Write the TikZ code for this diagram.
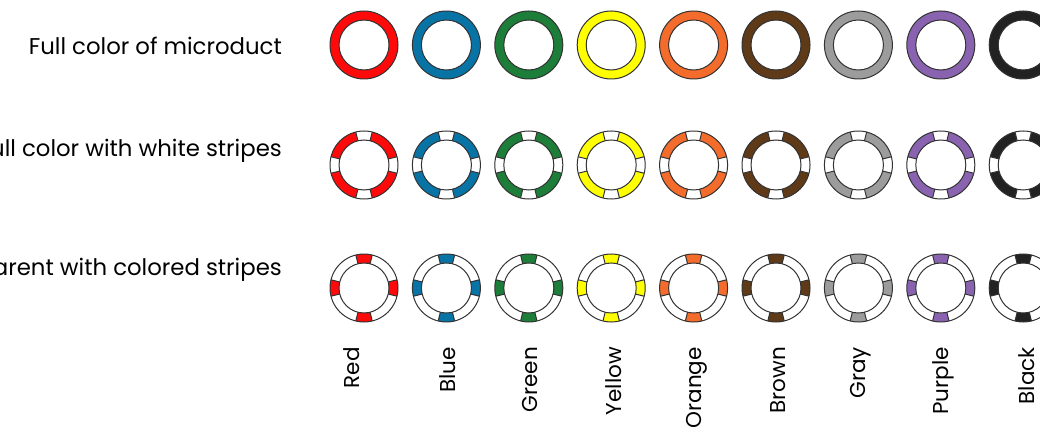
\documentclass[tikz,border=0pt]{standalone}
\usepackage{fontspec}
\setmainfont{Poppins}
\usetikzlibrary{calc}
\definecolor{mred}{HTML}{FF0A0A}
\definecolor{mblue}{HTML}{0874A6}
\definecolor{mgreen}{HTML}{1C7E38}
\definecolor{myellow}{HTML}{FFFF00}
\definecolor{morange}{HTML}{F36C2B}
\definecolor{mbrown}{HTML}{5E3A18}
\definecolor{mgray}{HTML}{9C9C9C}
\definecolor{mpurple}{HTML}{8A63B0}
\definecolor{mblack}{HTML}{222222}
\definecolor{rline}{HTML}{333333}
\tikzset{
  ringline/.style={draw=rline, line width=1pt},
  rowlabel/.style={font=\fontsize{22.8}{27}\selectfont, text=black, inner sep=0pt, anchor=east},
  collabel/.style={font=\fontsize{21.5}{26}\selectfont, text=black, inner sep=0pt, rotate=90, anchor=east},
}
\newcommand\ringseg[4]{%
  \fill[#2] ($(#1)+(#3:34)$) arc[start angle=#3, end angle=#4, radius=34]
    -- ($(#1)+(#4:25)$) arc[start angle=#4, end angle=#3, radius=25] -- cycle;
  \draw[ringline] ($(#1)+(#3:34)$) -- ($(#1)+(#3:25)$)
                  ($(#1)+(#4:34)$) -- ($(#1)+(#4:25)$);}
\newcommand\ringout[1]{%
  \draw[ringline] (#1) circle[radius=34] (#1) circle[radius=25];}
\begin{document}
\begin{tikzpicture}[x=1pt,y=-1pt]
\useasboundingbox (0,0) rectangle (1040,430);
\clip (0,0) rectangle (1040,430);
\node[rowlabel] (l1) at (282,46) {Full color of microduct};
\node[rowlabel] (l2) at (282,151) {Full color with white stripes};
\node[rowlabel] (l3) at (282,270) {Transparent with colored stripes};
\foreach \i/\c/\n/\dx in {0/mred/Red/-12,1/mblue/Blue/1,2/mgreen/Green/1,3/myellow/Yellow/2,4/morange/Orange/3,5/mbrown/Brown/2,6/mgray/Gray/2,7/mpurple/Purple/3,8/mblack/Black/3}{
  \pgfmathsetmacro\xx{364+82.4*\i}
  \coordinate (a\i) at (\xx,45);
  \coordinate (b\i) at (\xx,165);
  \coordinate (c\i) at (\xx,288);
  % row 1
  \fill[\c, even odd rule] (a\i) circle[radius=34] (a\i) circle[radius=25];
  \ringout{a\i}
  % row 2
  \fill[\c, even odd rule] (b\i) circle[radius=34] (b\i) circle[radius=25];
  \foreach \a in {0,90,180,270}{
    \pgfmathsetmacro\aa{\a-14}\pgfmathsetmacro\ab{\a+14}
    \ringseg{b\i}{white}{\aa}{\ab}}
  \ringout{b\i}
  % row 3
  \fill[white, even odd rule] (c\i) circle[radius=34] (c\i) circle[radius=25];
  \foreach \a in {0,90,180,270}{
    \pgfmathsetmacro\aa{\a-14}\pgfmathsetmacro\ab{\a+14}
    \ringseg{c\i}{\c}{\aa}{\ab}}
  \ringout{c\i}
  \node[collabel] (n\i) at (\xx+\dx,347) {\n};
}
\end{tikzpicture}
\end{document}
